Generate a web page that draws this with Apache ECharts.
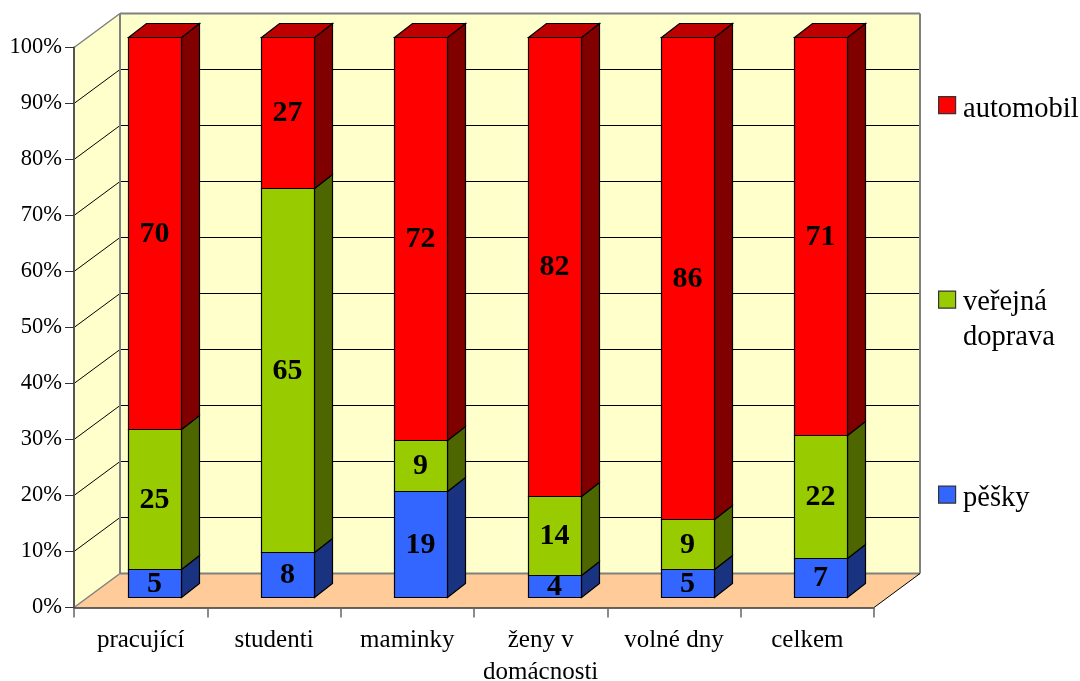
<!DOCTYPE html>
<html>
<head>
<meta charset="utf-8">
<style>html,body{margin:0;padding:0;background:#fff}#chart{width:1080px;height:681px}</style>
<script src="https://cdn.jsdelivr.net/npm/echarts@6/dist/echarts.min.js"></script>
</head>
<body>
<div id="chart"></div>
<script>
// Share of trips by mode of transport, per group of respondents
const categories = ['pracující', 'studenti', 'maminky', 'ženy v\ndomácnosti', 'volné dny', 'celkem'];
const pesky = [5, 8, 19, 4, 5, 7];
const verejna = [25, 65, 9, 14, 9, 22];
const automobil = [70, 27, 72, 82, 86, 71];
const gridValues = [0, 10, 20, 30, 40, 50, 60, 70, 80, 90, 100];

// Oblique projection of the box and of the columns inside it
const WALL_DX = 46, WALL_DY = -34;
const BAR_DX = 14, BAR_DY = -10, SIDE_DX = 18, SIDE_DY = -14, BAR_W = 53;
const FONT = '"Liberation Serif", "Times New Roman", serif';

const modes = [
  { name: 'pěšky', values: pesky, front: '#3366FF', side: '#1A3380', top: '#264DBF' },
  { name: 'veřejná doprava', values: verejna, front: '#99CC00', side: '#4D6600', top: '#739900' },
  { name: 'automobil', values: automobil, front: '#FF0000', side: '#800000', top: '#BF0000' }
];

function poly(points, fill, stroke, lw) {
  return { type: 'polygon', shape: { points }, style: { fill, stroke: stroke || null, lineWidth: lw || 1 } };
}
function line(a, b, stroke, lw) {
  return { type: 'line', shape: { x1: a[0], y1: a[1], x2: b[0], y2: b[1] }, style: { stroke, lineWidth: lw || 1 } };
}

// Walls, floor and gridlines of the box
function renderBox(params, api) {
  const n = categories.length;
  const half = api.size([1, 0])[0] / 2;
  const lb = api.coord([0, 0]); lb[0] -= half;
  const lt = api.coord([0, 100]); lt[0] -= half;
  const rb = api.coord([n - 1, 0]); rb[0] += half;
  const back = p => [p[0] + WALL_DX, p[1] + WALL_DY];
  const rt = [rb[0], lt[1]];
  const children = [
    poly([lb, lt, back(lt), back(lb)], '#FFFFCC'),
    poly([back(lb), back(lt), back(rt), back(rb)], '#FFFFCC'),
    poly([lb, back(lb), back(rb), rb], '#FFCC99')
  ];
  gridValues.slice(1, -1).forEach(v => {
    const y = api.coord([0, v])[1];
    const a = [lb[0], y];
    const b = back(a);
    children.push(line(a, b, '#000'));
    children.push(line(b, [back(rb)[0], b[1]], '#000'));
  });
  children.push(line(lt, back(lt), '#808080', 1.5));
  children.push(line(back(lt), back(rt), '#808080', 2));
  children.push(line(back(lt), back(lb), '#808080', 2));
  children.push(line(back(rt), back(rb), '#808080', 2));
  children.push(line(back(lb), back(rb), '#808080', 2));
  children.push(line(lb, back(lb), '#808080', 1.5));
  children.push(line(rb, back(rb), '#000'));
  return { type: 'group', children };
}

// One stacked segment: front face, side face, lid on the topmost one, value on the front
function renderSegment(mode, isTop) {
  return function (params, api) {
    const c = api.value(0), base = api.value(1), val = api.value(2);
    const p0 = api.coord([c, base]);
    const p1 = api.coord([c, base + val]);
    const cx = p0[0] + BAR_DX;
    // Edges sit on pixel centres so the outlines stay one pixel wide
    const l = Math.round(cx - 27) + 0.5, r = l + BAR_W;
    const yb = Math.floor(p0[1] + BAR_DY) + 0.5, yt = Math.floor(p1[1] + BAR_DY) + 0.5;
    const children = [
      poly([[r, yb], [r, yt], [r + SIDE_DX, yt + SIDE_DY], [r + SIDE_DX, yb + SIDE_DY]], mode.side, '#000', 1.2),
      poly([[l, yb], [l, yt], [r, yt], [r, yb]], mode.front, '#000', 1.2)
    ];
    if (isTop) {
      children.push(poly([[l, yt], [l + SIDE_DX, yt + SIDE_DY], [r + SIDE_DX, yt + SIDE_DY], [r, yt]], mode.top, '#000', 1.2));
    }
    children.push({
      type: 'text',
      style: {
        x: (l + r) / 2 - 0.5, y: (yb + yt) / 2 + 0.5, text: String(val), fill: '#000',
        font: 'bold 30px ' + FONT, align: 'center', verticalAlign: 'middle'
      }
    });
    return { type: 'group', children };
  };
}

const series = [{
  type: 'custom', name: 'box', silent: true, z: 1, clip: false,
  renderItem: renderBox, data: [[0, 0]], encode: { x: 0, y: 1 }
}];
const running = categories.map(() => 0);
modes.forEach((mode, m) => {
  const data = mode.values.map((v, i) => {
    const row = [i, running[i], v];
    running[i] += v;
    return row;
  });
  series.push({
    type: 'custom', name: mode.name, z: 2, clip: false,
    renderItem: renderSegment(mode, m === modes.length - 1),
    data, encode: { x: 0, y: 2 }
  });
});

// Key on the right, spaced as the entries are laid out beside the plot
const legendEntries = [
  { label: 'automobil', color: '#FF0000', boxTop: 96, textTop: 92 },
  { label: 'veřejná\ndoprava', color: '#99CC00', boxTop: 290.5, textTop: 285 },
  { label: 'pěšky', color: '#3366FF', boxTop: 485.5, textTop: 481 }
];
const legendGraphic = [];
legendEntries.forEach(e => {
  legendGraphic.push({
    type: 'rect', left: 938, top: e.boxTop, shape: { width: 17, height: 17 },
    style: { fill: e.color, stroke: '#333', lineWidth: 1.2 }
  });
  legendGraphic.push({
    type: 'text', left: 963, top: e.textTop,
    style: { text: e.label, fill: '#000', font: '28.5px ' + FONT, lineHeight: 35 }
  });
});

const chart = echarts.init(document.getElementById('chart'), null, { renderer: 'canvas' });
chart.setOption({
  animation: false,
  backgroundColor: '#fff',
  grid: { left: 74, top: 47.5, width: 800, height: 560, outerBoundsMode: 'none' },
  xAxis: {
    type: 'category', data: categories, z: 3,
    axisLine: { lineStyle: { color: '#333', width: 1.5 } },
    axisTick: { show: true, length: 10, alignWithLabel: false, lineStyle: { color: '#666', width: 1.5 } },
    axisLabel: { color: '#000', fontFamily: FONT, fontSize: 25, lineHeight: 32, margin: 17, interval: 0 }
  },
  yAxis: {
    type: 'value', min: 0, max: 100, interval: 10, z: 3,
    splitLine: { show: false },
    axisLine: { show: true, lineStyle: { color: '#555', width: 2 } },
    axisTick: { show: true, length: 9, lineStyle: { color: '#333', width: 1 } },
    axisLabel: { color: '#000', fontFamily: FONT, fontSize: 22.5, margin: 12, padding: [2, 0, 0, 0], formatter: '{value}%' }
  },
  series,
  graphic: legendGraphic
});
</script>
</body>
</html>
